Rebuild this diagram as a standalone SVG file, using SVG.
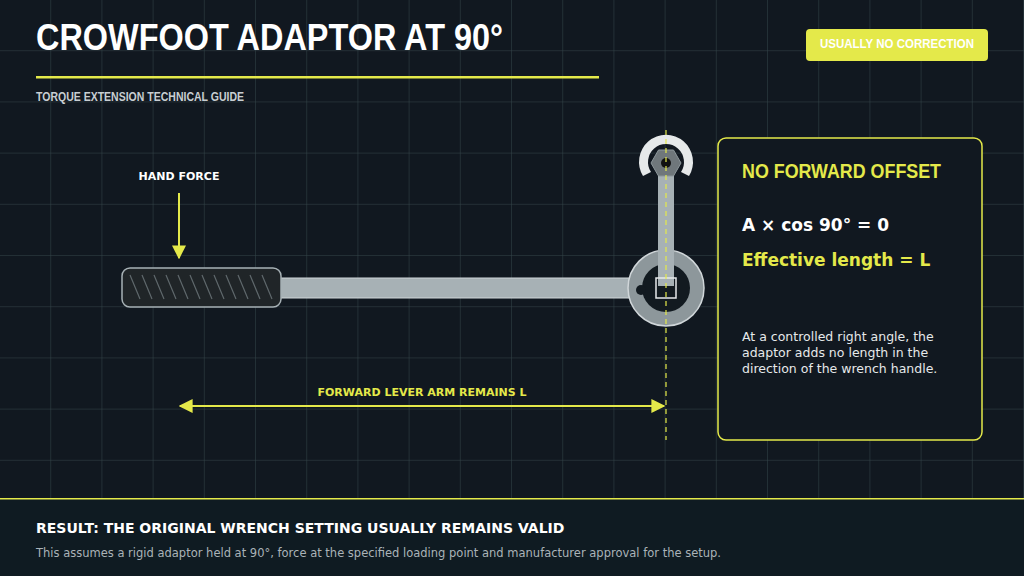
<svg xmlns="http://www.w3.org/2000/svg" width="1024" height="576" viewBox="0 0 1024 576">
<defs>
<pattern id="grid" width="51.2" height="51.2" patternUnits="userSpaceOnUse"><path d="M51.2 0V51.2M0 51.2H51.2" fill="none" stroke="#354549" stroke-width="1"/></pattern>
<marker id="ah" viewBox="0 0 10 10" refX="9" refY="5" markerWidth="7" markerHeight="7" orient="auto-start-reverse"><path d="M0 0L10 5L0 10z" fill="#e4e94a"/></marker>
</defs>
<style>
text{font-family:"DejaVu Sans",sans-serif}
.cond{font-family:"Liberation Sans",sans-serif;font-weight:bold}
.y{fill:#e4e94a}.w{fill:#ffffff}
</style>
<rect width="1024" height="576" fill="#111820"/>
<rect width="1024" height="500" fill="url(#grid)"/>
<text x="36" y="50" class="cond w" font-size="36" textLength="467" lengthAdjust="spacingAndGlyphs">CROWFOOT ADAPTOR AT 90°</text>
<rect x="36" y="76" width="563" height="2.5" fill="#e4e94a"/>
<text x="36" y="101" class="cond" font-size="12" fill="#c8ced2" textLength="208" lengthAdjust="spacingAndGlyphs">TORQUE EXTENSION TECHNICAL GUIDE</text>
<g id="badge"><rect x="806" y="29" width="182" height="32" rx="4" fill="#e4e94a"/><text x="820" y="48" class="cond" font-size="13" fill="#ffffff" textLength="154" lengthAdjust="spacingAndGlyphs">USUALLY NO CORRECTION</text></g>
<g id="handforce"><text x="179" y="180" text-anchor="middle" font-size="11" font-weight="bold" fill="#fff">HAND FORCE</text></g>
<g id="wrench">
<rect x="275" y="278" width="358" height="20" fill="#a7b1b5" stroke="#d0d6d9" stroke-width="1"/>
<rect x="122" y="268" width="159" height="39" rx="8" fill="#202528" stroke="#a7b1b5" stroke-width="1.5"/>
<g stroke="#5f686c" stroke-width="1.2"><path d="M130 275l10 24M142 275l10 24M154 275l10 24M166 275l10 24M178 275l10 24M190 275l10 24M202 275l10 24M214 275l10 24M226 275l10 24M238 275l10 24M250 275l10 24M262 275l10 24"/></g>
</g>
<g id="crowfoot">
<circle cx="666" cy="288" r="38" fill="#8d979b" stroke="#d0d6d9" stroke-width="1.5"/>
<circle cx="666" cy="288" r="24" fill="#121a20"/>
<circle cx="641" cy="290" r="5" fill="#121a20"/>
<rect x="658" y="168" width="16" height="118" fill="#a7b1b5"/>
<path d="M643 176A27 27 0 1 1 689 176L681 172A18 18 0 1 0 651 172Z" fill="#e6e9ea"/>
<polygon points="681,163 673.5,176 658.5,176 651,163 658.5,150 673.5,150" fill="#6f777b" stroke="#8d979b"/>
<circle cx="666" cy="163" r="5" fill="#111"/>
<rect x="656" y="278" width="20" height="20" fill="none" stroke="#e6e9ea" stroke-width="1.5"/>
</g>
<g id="connectors">
<line x1="179" y1="193" x2="179" y2="258" stroke="#e4e94a" stroke-width="2" marker-end="url(#ah)"/>
<line x1="666" y1="130" x2="666" y2="440" stroke="#e4e94a" stroke-width="1.2" stroke-dasharray="5 4"/>
<line x1="180" y1="406" x2="664" y2="406" stroke="#e4e94a" stroke-width="2" marker-start="url(#ah)" marker-end="url(#ah)"/>
</g>
<text x="422" y="396" text-anchor="middle" font-size="11" font-weight="bold" class="y">FORWARD LEVER ARM REMAINS L</text>
<g id="panel">
<rect x="718" y="138" width="264" height="302" rx="8" fill="#111820" stroke="#e4e94a" stroke-width="1.5"/>
<text x="742" y="178" class="cond y" font-size="21" textLength="199" lengthAdjust="spacingAndGlyphs">NO FORWARD OFFSET</text>
<text x="742" y="231" font-size="17" font-weight="bold" fill="#fff">A × cos 90° = 0</text>
<text x="742" y="266" font-size="17" font-weight="bold" class="y">Effective length = L</text>
<text font-size="12.5" fill="#e6e9ea"><tspan x="742" y="341">At a controlled right angle, the</tspan><tspan x="742" y="357">adaptor adds no length in the</tspan><tspan x="742" y="373">direction of the wrench handle.</tspan></text>
</g>
<g id="footer">
<rect x="0" y="499" width="1024" height="77" fill="#0f1b22"/>
<rect x="0" y="498" width="1024" height="1.5" fill="#e4e94a"/>
<text x="36" y="533" font-size="14" font-weight="bold" fill="#fff">RESULT: THE ORIGINAL WRENCH SETTING USUALLY REMAINS VALID</text>
<text x="36" y="557" font-size="11.5" fill="#aab3b8">This assumes a rigid adaptor held at 90°, force at the specified loading point and manufacturer approval for the setup.</text>
</g>
</svg>
